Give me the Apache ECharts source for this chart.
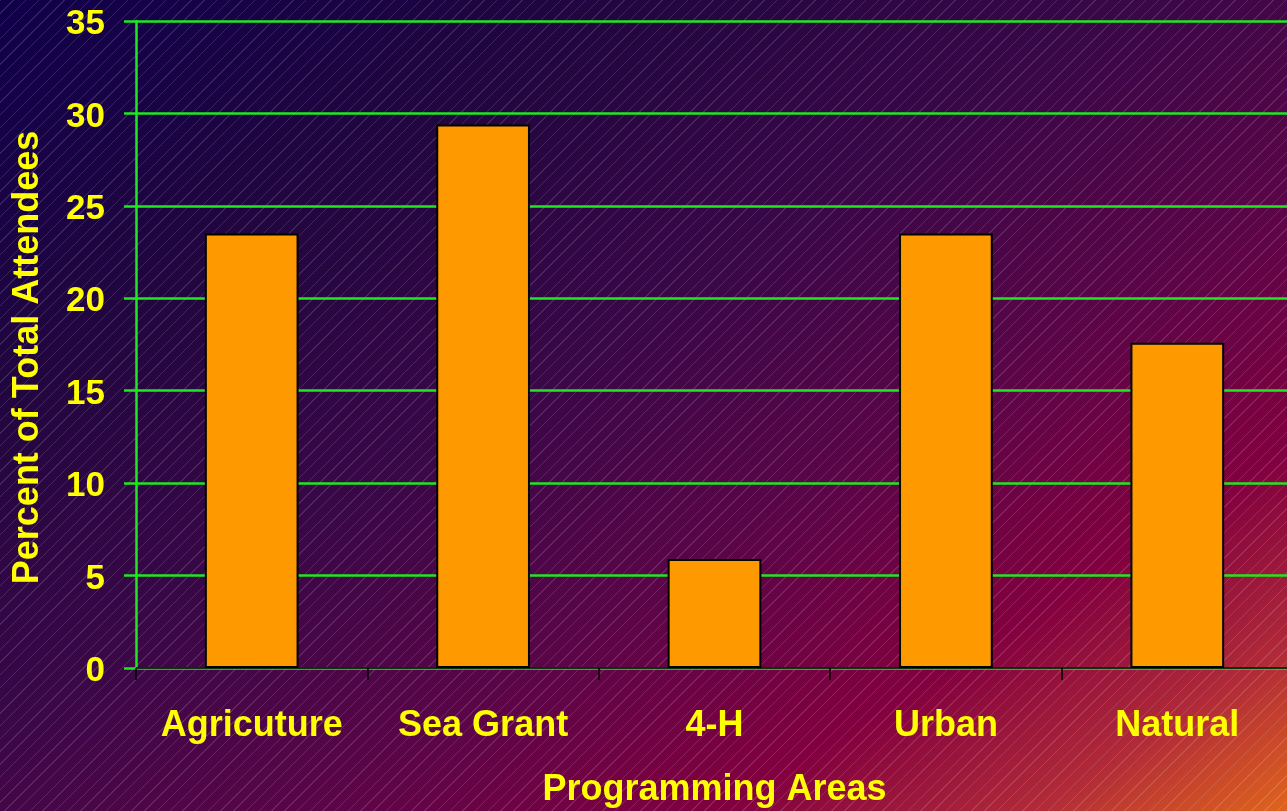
<!DOCTYPE html>
<html>
<head>
<meta charset="utf-8">
<script src="https://cdn.jsdelivr.net/npm/echarts@6/dist/echarts.min.js"></script>
<style>
html,body{margin:0;padding:0;width:1287px;height:811px;overflow:hidden;}
#bg{position:absolute;left:0;top:0;width:1287px;height:811px;
background:
 repeating-linear-gradient(135deg, rgba(255,255,255,0.13) 0px, rgba(255,255,255,0.13) 1px, rgba(255,255,255,0) 1px, rgba(255,255,255,0) 9px),
 linear-gradient(to bottom right, #10004a 0%, #22063f 25%, #3a0747 45%, #5a0548 62%, #82003f 78%, #b02a38 90%, #e0641c 100%);}
#chart{position:absolute;left:0;top:0;width:1287px;height:811px;}
</style>
</head>
<body>
<div id="bg"></div>
<div id="chart"></div>
<script>
const categories = ["Agricuture", "Sea Grant", "4-H", "Urban", "Natural"];
const percentValues = [23.5, 29.4, 5.9, 23.5, 17.6];
const yTicks = [0, 5, 10, 15, 20, 25, 30, 35];

const chart = echarts.init(document.getElementById('chart'), null, {renderer: 'canvas'});
const font = '"Liberation Sans", Arial, sans-serif';
chart.setOption({
  backgroundColor: 'transparent',
  animation: false,
  grid: {left: 136, top: 21, width: 1157, height: 647, containLabel: false, outerBoundsMode: 'none'},
  xAxis: {
    type: 'category',
    data: categories,
    name: 'Programming Areas',
    nameLocation: 'middle',
    nameGap: 104,
    nameTextStyle: {color: '#ffff00', fontWeight: 'bold', fontSize: 36, fontFamily: font},
    axisLine: {show: true, lineStyle: {color: '#000000', width: 1.5}},
    axisTick: {show: true, interval: 0, length: 12, lineStyle: {color: '#000000', width: 1.5}},
    axisLabel: {show: true, interval: 0, hideOverlap: false, color: '#ffff00', fontWeight: 'bold', fontSize: 36, fontFamily: font, margin: 40},
    splitLine: {show: false}
  },
  yAxis: {
    type: 'value',
    min: yTicks[0],
    max: yTicks[yTicks.length - 1],
    interval: 5,
    name: 'Percent of Total Attendees',
    nameLocation: 'middle',
    nameGap: 90,
    nameTextStyle: {color: '#ffff00', fontWeight: 'bold', fontSize: 36, fontFamily: font, padding: [0, 26, 0, 0]},
    axisLine: {show: true, lineStyle: {color: '#1ee81e', width: 2.5}},
    axisTick: {show: true, length: 12, lineStyle: {color: '#1ee81e', width: 2.5}},
    axisLabel: {color: '#ffff00', fontWeight: 'bold', fontSize: 35, fontFamily: font, margin: 31, verticalAlign: 'top', lineHeight: 7},
    splitLine: {show: true, lineStyle: {color: '#1ee81e', width: 2.5}}
  },
  series: [{
    type: 'bar',
    data: percentValues,
    barWidth: '40.5%',
    itemStyle: {color: '#ff9900', borderColor: '#000000', borderWidth: 2}
  }]
});
</script>
</body>
</html>
